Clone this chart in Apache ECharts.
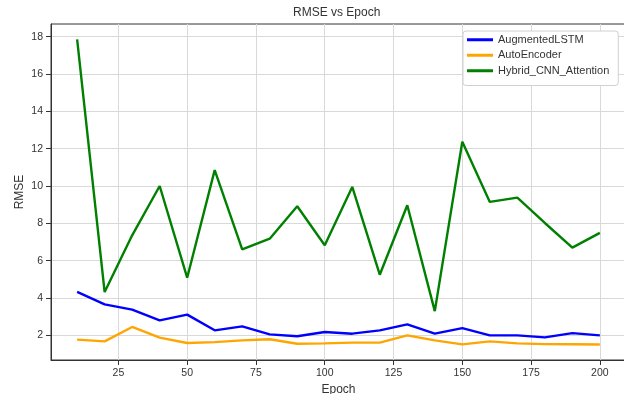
<!DOCTYPE html>
<html>
<head>
<meta charset="utf-8">
<script src="https://cdn.jsdelivr.net/npm/echarts@6/dist/echarts.min.js"></script>
<style>
  html, body { margin: 0; padding: 0; background: #fff; }
  #chart { width: 624px; height: 394px; }
</style>
</head>
<body>
<div id="chart"></div>
<script>
// Epochs and RMSE per model
const epochs = [10, 20, 30, 40, 50, 60, 70, 80, 90, 100, 110, 120, 130, 140, 150, 160, 170, 180, 190, 200];
const augmentedLSTM = [4.33, 3.66, 3.38, 2.80, 3.11, 2.27, 2.48, 2.05, 1.95, 2.18, 2.09, 2.27, 2.59, 2.09, 2.39, 2.00, 2.00, 1.89, 2.12, 2.00];
const autoEncoder = [1.77, 1.68, 2.45, 1.88, 1.59, 1.64, 1.73, 1.79, 1.55, 1.57, 1.61, 1.61, 2.00, 1.73, 1.52, 1.68, 1.57, 1.53, 1.52, 1.51];
const hybridCnnAttention = [17.86, 4.32, 7.36, 10.00, 5.09, 10.85, 6.61, 7.18, 8.92, 6.83, 9.95, 5.25, 8.97, 3.30, 12.37, 9.15, 9.38, 8.02, 6.70, 7.49];

// Tick positions
const xTicks = [25, 50, 75, 100, 125, 150, 175, 200];
const yTicks = [2, 4, 6, 8, 10, 12, 14, 16, 18];

const seriesNames = ['AugmentedLSTM', 'AutoEncoder', 'Hybrid_CNN_Attention'];
const seriesColors = ['#0000ff', '#ffa500', '#008000'];
const seriesValues = [augmentedLSTM, autoEncoder, hybridCnnAttention];

const FONT = '"Liberation Sans", Arial, sans-serif';
const TEXT = '#333333';

const chart = echarts.init(document.getElementById('chart'), null, { renderer: 'canvas' });

chart.setOption({
  animation: false,
  backgroundColor: '#ffffff',
  title: {
    text: 'RMSE vs Epoch',
    left: 293,
    top: 7,
    padding: 0,
    textStyle: { fontFamily: FONT, fontSize: 12, fontWeight: 'normal', color: TEXT }
  },
  legend: {
    orient: 'vertical',
    left: 463,
    top: 31,
    padding: [1, 9, 7, 4],
    itemGap: 0,
    itemWidth: 26,
    itemHeight: 3,
    icon: 'rect',
    backgroundColor: '#ffffff',
    borderColor: '#d0d0d0',
    borderWidth: 1,
    borderRadius: 3,
    textStyle: { fontFamily: FONT, fontSize: 11, color: TEXT, lineHeight: 15.5 },
    data: seriesNames
  },
  grid: {
    left: 51,
    top: 24,
    width: 575,
    height: 336,
    outerBoundsMode: 'none',
    containLabel: false,
    show: true,
    borderColor: '#333333',
    borderWidth: 1
  },
  xAxis: {
    type: 'value',
    min: 0.5,
    max: 209.5,
    name: 'Epoch',
    nameLocation: 'middle',
    nameGap: 24,
    nameMoveOverlap: false,
    nameTextStyle: { fontFamily: FONT, fontSize: 12, color: TEXT },
    axisLine: { show: true, lineStyle: { color: '#333333', width: 1 } },
    axisTick: { show: true, length: 5, customValues: xTicks, lineStyle: { color: '#333333' } },
    axisLabel: { customValues: xTicks, margin: 8, fontFamily: FONT, fontSize: 10.5, color: TEXT },
    splitLine: { show: true, lineStyle: { color: '#d9d9d9', width: 1 } }
  },
  yAxis: {
    type: 'value',
    min: 0.68,
    max: 18.68,
    name: 'RMSE',
    nameLocation: 'middle',
    nameGap: 25,
    nameMoveOverlap: false,
    nameTextStyle: { fontFamily: FONT, fontSize: 12, color: TEXT },
    axisLine: { show: true, lineStyle: { color: '#333333', width: 1 } },
    axisTick: { show: true, length: 5, customValues: yTicks, lineStyle: { color: '#333333' } },
    axisLabel: { customValues: yTicks, margin: 8, fontFamily: FONT, fontSize: 10.5, color: TEXT },
    splitLine: { show: true, lineStyle: { color: '#d9d9d9', width: 1 } }
  },
  series: seriesNames.map((name, i) => ({
    name: name,
    type: 'line',
    data: epochs.map((e, j) => [e, seriesValues[i][j]]),
    showSymbol: false,
    symbol: 'none',
    color: seriesColors[i],
    lineStyle: { width: 2.4, color: seriesColors[i] },
    z: 2 + i
  }))
});
</script>
</body>
</html>
